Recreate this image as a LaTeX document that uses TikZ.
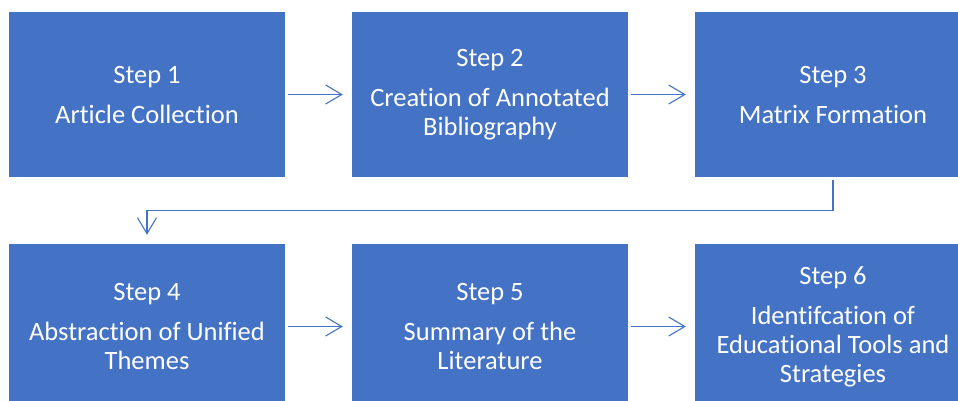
\documentclass[tikz,border=0pt]{standalone}
\usepackage{fontspec}
\setmainfont{Carlito}[Ligatures=NoCommon]
\usetikzlibrary{arrows.meta}
\definecolor{officeblue}{HTML}{4472C4}
\begin{document}
\begin{tikzpicture}[x=1pt,y=-1pt,
  stepbox/.style={fill=officeblue,draw=none,text=white,align=center,
    minimum width=276pt,minimum height=165pt,inner sep=0pt,
    font=\fontsize{26.5}{29}\selectfont},
  conn/.style={draw=officeblue,line width=1.1pt,
    -{Straight Barb[length=16pt,width=19pt,line width=1.1pt]}}]
\useasboundingbox (0,0) rectangle (958,401);
\clip (0,0) rectangle (958,401);
\node[stepbox] (s1) at (147,94.5) {Step 1\\[11pt]Article Collection};
\node[stepbox] (s2) at (490,94.5) {Step 2\\[11pt]Creation of Annotated\\Bibliography};
\node[stepbox] (s3) at (833,94.5) {Step 3\\[11pt]Matrix Formation};
\node[stepbox] (s4) at (147,326.5) {Step 4\\[11pt]Abstraction of Unified\\Themes};
\node[stepbox] (s5) at (490,326.5) {Step 5\\[11pt]Summary of the\\Literature};
\node[stepbox] (s6) at (833,326.5) {Step 6\\[11pt]Identifcation of\\Educational Tools and\\Strategies};
\draw[conn] ([xshift=3pt]s1.east) -- ([xshift=-9pt]s2.west);
\draw[conn] ([xshift=3pt]s2.east) -- ([xshift=-9pt]s3.west);
\draw[conn] ([xshift=3pt]s4.east) -- ([xshift=-9pt]s5.west);
\draw[conn] ([xshift=3pt]s5.east) -- ([xshift=-9pt]s6.west);
\draw[conn] ([yshift=-3pt]s3.south) -- ++(0,30) -| ([yshift=9pt]s4.north);
\end{tikzpicture}
\end{document}
